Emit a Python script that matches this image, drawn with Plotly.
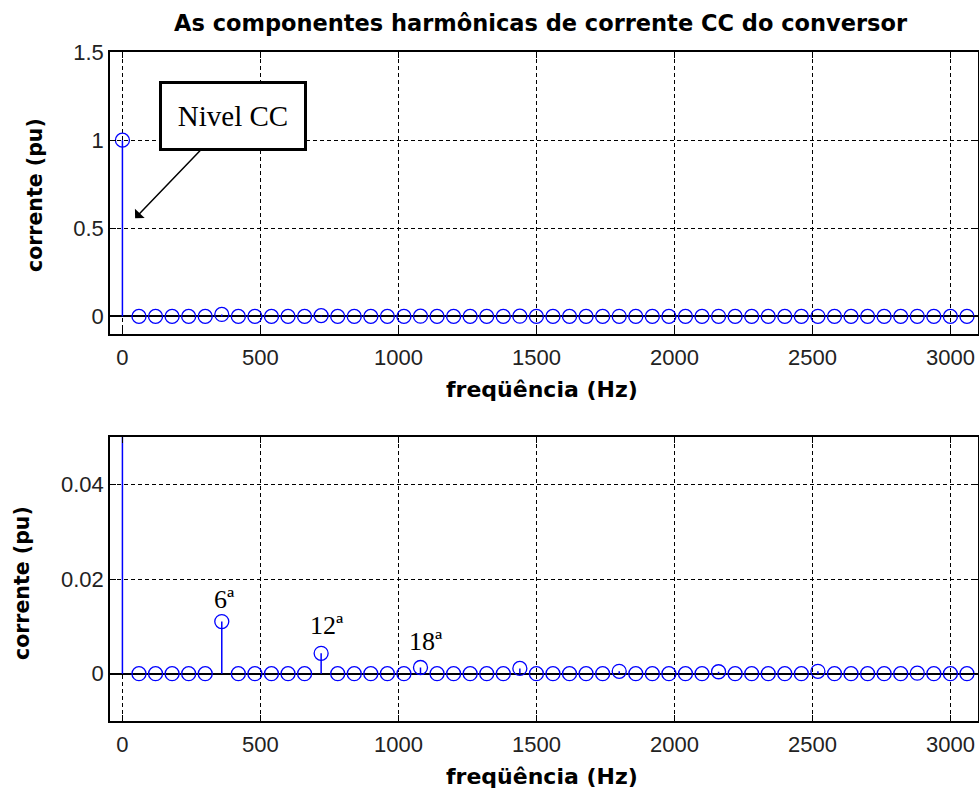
import plotly.graph_objects as go
from plotly.subplots import make_subplots

# ---------------- data ----------------
freq_hz = [0, 60, 120, 180, 240, 300, 360, 420, 480, 540, 600, 660, 720, 780, 840,
           900, 960, 1020, 1080, 1140, 1200, 1260, 1320, 1380, 1440, 1500, 1560,
           1620, 1680, 1740, 1800, 1860, 1920, 1980, 2040, 2100, 2160, 2220, 2280,
           2340, 2400, 2460, 2520, 2580, 2640, 2700, 2760, 2820, 2880, 2940, 3000, 3060]
corrente_pu = [1.0, 0, 0, 0, 0, 0, 0.011, 0, 0, 0, 0, 0, 0.0043, 0, 0,
               0, 0, 0, 0.0013, 0, 0, 0, 0, 0, 0.0011, 0, 0,
               0, 0, 0, 0.0005, 0, 0, 0, 0, 0, 0.0004, 0, 0,
               0, 0, 0, 0.0005, 0, 0, 0, 0, 0, 0.0001, 0, 0, 0]
harm_labels = ["6ª", "12ª", "18ª"]
harm_freqs = [360, 720, 1080]
harm_vals = [0.011, 0.0043, 0.0013]

title_text = "As componentes harmônicas de corrente CC do conversor"
xlabel = "freqüência (Hz)"
ylabel = "corrente (pu)"
annot_text = "Nivel CC"

# ---------------- figure ----------------
W, H = 979, 792

def px_x(x):
    return x / W

def px_y(y):
    return 1 - y / H

fig = make_subplots(rows=2, cols=1)

BLUE = "#0000FF"

def stems(xs, ys):
    sx, sy = [], []
    for x, y in zip(xs, ys):
        sx += [x, x, None]
        sy += [0, y, None]
    return sx, sy

sx, sy = stems(freq_hz, corrente_pu)
for r in (1, 2):
    fig.add_trace(go.Scatter(x=sx, y=sy, mode="lines",
                             line=dict(color=BLUE, width=1.5),
                             hoverinfo="skip", showlegend=False), row=r, col=1)
    fig.add_trace(go.Scatter(x=freq_hz, y=corrente_pu, mode="markers",
                             marker=dict(symbol="circle-open", size=14, color=BLUE,
                                         line=dict(width=1.3, color=BLUE)),
                             showlegend=False), row=r, col=1)

xdom = [px_x(110), px_x(978)]
top_dom = [px_y(334), px_y(52)]
bot_dom = [px_y(721), px_y(437)]

tickfont = dict(family="Liberation Sans, Arial", size=22, color="#222")
common_x = dict(range=[-45, 3100], tickvals=[0, 500, 1000, 1500, 2000, 2500, 3000],
                showgrid=True, gridcolor="black", griddash="4px,3px", gridwidth=1,
                zeroline=False, showline=True, linecolor="black", linewidth=1.5,
                mirror="ticks", ticks="inside", ticklen=6, tickcolor="black",
                tickfont=tickfont, ticklabelstandoff=3, domain=xdom, automargin=False)
common_y = dict(showgrid=True, gridcolor="black", griddash="4px,3px", gridwidth=1,
                zeroline=True, zerolinecolor="black", zerolinewidth=1.5,
                showline=True, linecolor="black", linewidth=1.5,
                mirror="ticks", ticks="inside", ticklen=6, tickcolor="black",
                tickfont=tickfont, automargin=False)

fig.update_xaxes(**common_x, row=1, col=1)
fig.update_xaxes(**common_x, row=2, col=1)
fig.update_yaxes(**common_y, range=[-0.1, 1.5], tickvals=[0, 0.5, 1, 1.5],
                 ticktext=["0", "0.5", "1", "1.5"], domain=top_dom, row=1, col=1)
fig.update_yaxes(**common_y, range=[-0.01, 0.05], tickvals=[0, 0.02, 0.04],
                 ticktext=["0", "0.02", "0.04"], domain=bot_dom, row=2, col=1)

annots = []
annots.append(dict(text="<b>" + title_text + "</b>", xref="paper", yref="paper",
                   x=px_x(541), y=px_y(23), showarrow=False,
                   font=dict(family="DejaVu Sans", size=22.5, color="black"),
                   xanchor="center", yanchor="middle"))
for yc in (389, 776):
    annots.append(dict(text="<b>" + xlabel + "</b>", xref="paper", yref="paper",
                       x=px_x(542), y=px_y(yc), showarrow=False,
                       font=dict(family="DejaVu Sans", size=22, color="black"),
                       xanchor="center", yanchor="middle"))
for xc, yc in ((35, 195), (22, 583)):
    annots.append(dict(text="<b>" + ylabel + "</b>", xref="paper", yref="paper",
                       x=px_x(xc), y=px_y(yc), showarrow=False,
                       font=dict(family="DejaVu Sans", size=20.5, color="black"),
                       textangle=-90, xanchor="center", yanchor="middle"))

# Nivel CC callout
annots.append(dict(text=annot_text, xref="x", yref="y", x=46, y=0.557,
                   ax=98, ay=-102, axref="pixel", ayref="pixel",
                   showarrow=True, arrowhead=1, arrowsize=1.5, arrowwidth=1.5,
                   arrowcolor="black", bgcolor="white", bordercolor="black",
                   borderwidth=3, borderpad=4, width=134, height=56,
                   font=dict(family="Liberation Serif, Times New Roman", size=29,
                             color="black")))

shifts = [(3, 6), (6, 11), (6, 10)]
for lab, f, v, (dx, dy) in zip(harm_labels, harm_freqs, harm_vals, shifts):
    annots.append(dict(text=lab, xref="x2", yref="y2", x=f, y=v, showarrow=False,
                       xanchor="center", yanchor="bottom", xshift=dx, yshift=dy,
                       font=dict(family="Liberation Serif, Times New Roman", size=26,
                                 color="black")))

fig.update_layout(width=W, height=H, margin=dict(l=0, r=0, t=0, b=0),
                  paper_bgcolor="white", plot_bgcolor="white",
                  annotations=annots, showlegend=False)

fig.write_html("out.html", config={"displayModeBar": False},
               post_script="document.body.style.margin='0';"
                           "document.body.style.overflow='hidden';")
